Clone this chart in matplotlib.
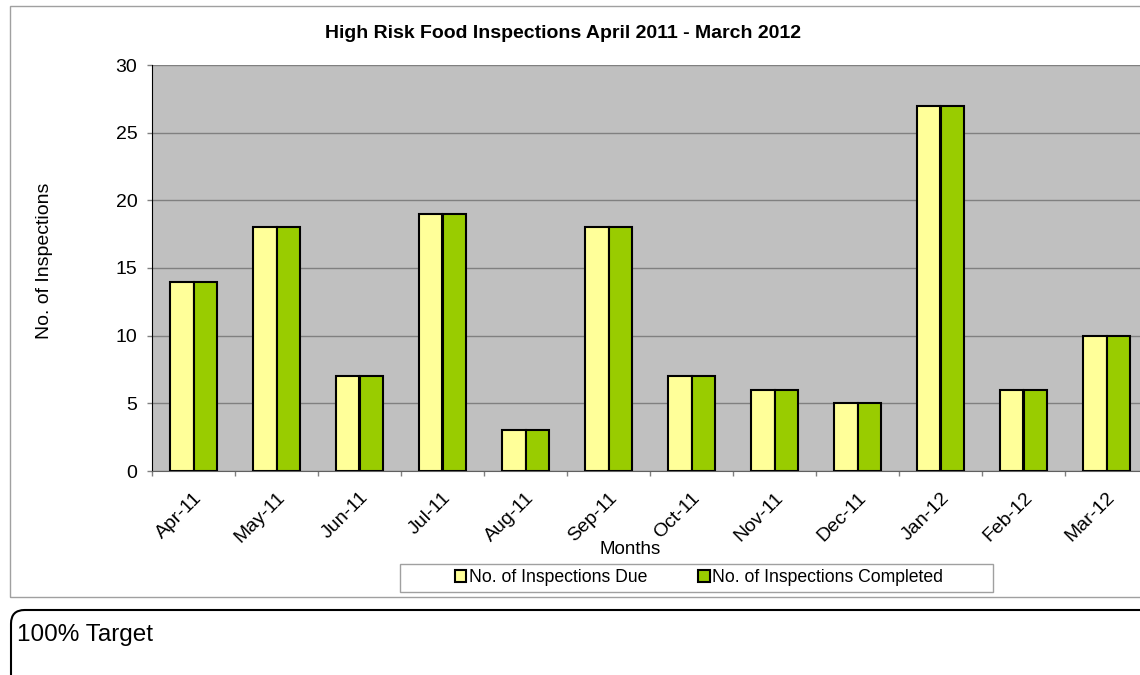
import numpy as np
import matplotlib.pyplot as plt
from matplotlib.patches import Rectangle, FancyBboxPatch

plt.rcParams['font.family'] = ['Liberation Sans', 'DejaVu Sans']

# Data
months = ['Apr-11', 'May-11', 'Jun-11', 'Jul-11', 'Aug-11', 'Sep-11',
          'Oct-11', 'Nov-11', 'Dec-11', 'Jan-12', 'Feb-12', 'Mar-12']
due = [14, 18, 7, 19, 3, 18, 7, 6, 5, 27, 6, 10]
completed = [14, 18, 7, 19, 3, 18, 7, 6, 5, 27, 6, 10]

W, H = 1140, 675
fig = plt.figure(figsize=(W/100, H/100), dpi=100)

# plot area in pixels (right edge runs off the image like the reference)
left, right, top, bottom = 152, 1148, 65, 471
ax = fig.add_axes([left/W, 1 - bottom/H, (right-left)/W, (bottom-top)/H])
ax.set_facecolor('#C0C0C0')

x = np.arange(len(months))
bw = 0.283
ax.bar(x - bw/2, due, bw, color='#FFFF99', edgecolor='black', linewidth=1.5,
       label='No. of Inspections Due', zorder=3)
ax.bar(x + bw/2, completed, bw, color='#99CC00', edgecolor='black', linewidth=1.5,
       label='No. of Inspections Completed', zorder=3)

ax.set_xlim(-0.5, len(months) - 0.5)
ax.set_ylim(0, 30)
ax.set_yticks(range(0, 31, 5))
ax.yaxis.grid(True, color='#808080', linewidth=1, zorder=1)
ax.tick_params(axis='y', labelsize=14, length=3.6, width=1, color='#808080', pad=7)

# category boundary ticks, labels centred on the groups
ax.set_xticks(np.arange(-0.5, len(months), 1.0))
ax.set_xticklabels([])
ax.tick_params(axis='x', length=3.6, width=1, color='#808080')
ax.set_xticks(x, minor=True)
ax.set_xticklabels(months, minor=True, rotation=45, ha='right',
                   rotation_mode='anchor', fontsize=14)
ax.tick_params(axis='x', which='minor', length=0, pad=13)

for s in ['top', 'right']:
    ax.spines[s].set_visible(False)
ax.spines['left'].set_color('black')
ax.spines['bottom'].set_color('#606060')

fig.text(563/W, 1 - 33/H, 'High Risk Food Inspections April 2011 - March 2012',
         ha='center', va='center', fontsize=14, fontweight='bold')
fig.text(45/W, 1 - 261/H, 'No. of Inspections', rotation=90,
         ha='center', va='center', fontsize=14)
fig.text(630/W, 1 - 549/H, 'Months', ha='center', va='center', fontsize=13.5)

leg = fig.legend(loc='center', bbox_to_anchor=(699/W, 1 - 578/H), ncol=2,
                 fontsize=12.7, frameon=False, handlelength=0.65,
                 handleheight=0.65, handletextpad=0.15, columnspacing=2.9)
# legend box
fig.patches.append(Rectangle((400/W, 1 - 592/H), 593/W, 28/H,
                             transform=fig.transFigure, fill=False,
                             edgecolor='#A0A0A0', linewidth=1))

# chart border
fig.patches.append(Rectangle((10/W, 1 - 597/H), 1140/W, 591/H,
                             transform=fig.transFigure, fill=False,
                             edgecolor='#A0A0A0', linewidth=1))
# text box below
fig.patches.append(FancyBboxPatch((11/W, 1 - 700/H), 1160/W, 90/H,
                                  boxstyle='round,pad=0,rounding_size=0.012',
                                  transform=fig.transFigure, fill=False,
                                  edgecolor='black', linewidth=1.5,
                                  mutation_aspect=W/H))
fig.text(17/W, 1 - 635/H, '100% Target', ha='left', va='center', fontsize=17.5)

fig.savefig('out.png', dpi=100)
